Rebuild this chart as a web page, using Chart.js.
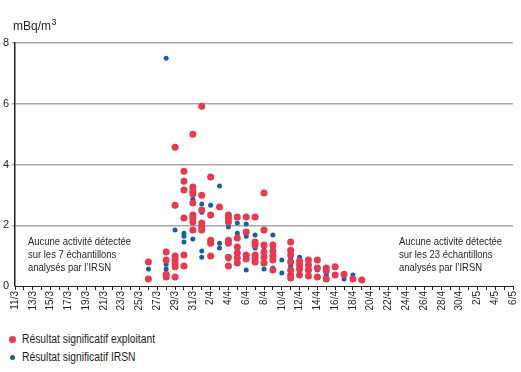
<!DOCTYPE html>
<html>
<head>
<meta charset="utf-8">
<script src="https://cdn.jsdelivr.net/npm/chart.js@4.4.1/dist/chart.umd.min.js"></script>
<style>
    body { margin: 0; background: #fff; }
    #wrap { position: relative; width: 521px; height: 372px; font-family: "Liberation Sans", sans-serif; color: #231f20; }
    #myChart { position: absolute; left: 0; top: 0; }
    .legendItem { position: absolute; left: 0; height: 14px; line-height: 14px; font-size: 12px; white-space: nowrap; }
    .legendItem span.dot { position: absolute; border-radius: 50%; }
    .legendItem span.txt { position: absolute; left: 22px; top: 0; transform: scaleX(0.86); transform-origin: 0 50%; }
</style>
</head>
<body>
<div id="wrap">
    <canvas id="myChart" width="521" height="325"></canvas>
    <div class="legendItem" style="top:332px"><span class="dot" style="left:9px;top:3.5px;width:7px;height:7px;background:#e63a4e"></span><span class="txt">Résultat significatif exploitant</span></div>
    <div class="legendItem" style="top:350px"><span class="dot" style="left:10px;top:5px;width:5px;height:5px;background:#1a5ea8"></span><span class="txt">Résultat significatif IRSN</span></div>
</div>
<script>
// every day shown on the x axis (labels on every second day)
var days = ['11/3', '12/3', '13/3', '14/3', '15/3', '16/3', '17/3', '18/3', '19/3', '20/3',
    '21/3', '22/3', '23/3', '24/3', '25/3', '26/3', '27/3', '28/3', '29/3', '30/3', '31/3',
    '1/4', '2/4', '3/4', '4/4', '5/4', '6/4', '7/4', '8/4', '9/4', '10/4',
    '11/4', '12/4', '13/4', '14/4', '15/4', '16/4', '17/4', '18/4', '19/4', '20/4',
    '21/4', '22/4', '23/4', '24/4', '25/4', '26/4', '27/4', '28/4', '29/4', '30/4',
    '1/5', '2/5', '3/5', '4/5', '5/5', '6/5'];

var yTicks = [0, 2, 4, 6, 8];

// sampling days that have at least one result
var sampleDates = ['26/3', '28/3', '29/3', '30/3', '31/3', '1/4', '2/4', '3/4', '4/4', '5/4',
    '6/4', '7/4', '8/4', '9/4', '10/4', '11/4', '12/4', '13/4', '14/4', '15/4',
    '16/4', '17/4', '18/4', '19/4'];

// mBq/m3, one list per sampling day
var exploitantValues = [
    [0.79, 0.23],
    [1.12, 0.86, 0.39, 0.30],
    [4.57, 2.66, 0.99, 0.89, 0.76, 0.63, 0.30],
    [3.78, 3.45, 3.16, 2.24, 1.02, 0.66],
    [5.0, 3.26, 3.13, 3.03, 2.73, 2.34, 2.24, 2.11, 1.84],
    [5.92, 2.99, 2.5, 2.07, 1.94, 1.84],
    [3.59, 2.34, 1.51, 1.41, 0.99],
    [2.6],
    [2.34, 2.24, 2.11, 1.51, 1.41, 0.95, 0.66],
    [2.27, 1.58, 1.28, 1.09, 0.92, 0.76],
    [2.27, 1.78, 1.02, 0.89],
    [2.27, 1.45, 1.35, 1.02, 0.92, 0.79],
    [3.06, 1.84, 1.35, 1.12, 0.95, 0.76],
    [1.35, 1.15, 0.99, 0.86, 0.53],
    [],
    [1.45, 1.18, 1.02, 0.79, 0.53, 0.36, 0.26],
    [0.82, 0.69, 0.56, 0.36],
    [0.86, 0.69, 0.53, 0.33],
    [0.86, 0.59, 0.30],
    [0.59, 0.49, 0.23],
    [0.63, 0.36],
    [0.39],
    [0.23],
    [0.20]
];

var irsnValues = [
    [0.56],
    [7.5, 0.72, 0.56],
    [1.84],
    [1.74, 1.64, 1.45],
    [2.86, 1.55],
    [2.70, 2.43, 1.15, 0.95],
    [2.66],
    [3.29, 1.41, 1.25],
    [1.94, 0.89],
    [2.07, 1.74, 0.82],
    [2.04, 1.64, 0.53],
    [1.68, 1.25],
    [1.28, 0.56],
    [1.68, 1.25, 0.59],
    [0.86, 0.43],
    [0.89, 0.66],
    [0.95],
    [0.63],
    [0.53],
    [0.36, 0.30],
    [],
    [0.33, 0.23],
    [0.36],
    []
];

var noteLeft = ['Aucune activité détectée', 'sur les 7 échantillons', 'analysés par l\u2019IRSN'];
var noteRight = ['Aucune activité détectée', 'sur les 23 échantillons', 'analysés par l\u2019IRSN'];

var FONT = '"Liberation Sans", sans-serif';

// turn the per-day lists into scatter points
var toPoints = function (lists) {
    var pts = [];
    lists.forEach(function (vals, i) {
        var x = days.indexOf(sampleDates[i]);
        vals.forEach(function (v) {
            pts.push({ x: x, y: v });
        });
    });
    return pts;
};

// narrow text: squeeze horizontally like the condensed font of the original
var drawNarrow = function (ctx, text, x, y) {
    ctx.save();
    ctx.translate(x, y);
    ctx.scale(0.86, 1);
    ctx.fillText(text, 0, 0);
    ctx.restore();
};

// unit label and the two "no activity" notes
var notesPlugin = {
    id: 'notes',
    afterDraw: function (chart) {
        var ctx = chart.ctx;
        ctx.save();
        ctx.fillStyle = '#231f20';
        ctx.textBaseline = 'alphabetic';
        ctx.font = '12px ' + FONT;
        ctx.fillText('mBq/m', 13, 30);
        var w = ctx.measureText('mBq/m').width;
        ctx.font = '9px ' + FONT;
        ctx.fillText('3', 13 + w + 0.5, 25);

        ctx.font = '11px ' + FONT;
        ctx.textBaseline = 'middle';
        noteLeft.forEach(function (t, i) {
            drawNarrow(ctx, t, 28, 242 + i * 13);
        });
        noteRight.forEach(function (t, i) {
            drawNarrow(ctx, t, 399, 242 + i * 13);
        });
        ctx.restore();
    }
};

var ctx = document.getElementById('myChart').getContext('2d');

var chart = new Chart(ctx, {
    type: 'scatter',
    data: {
        datasets: [{
            label: 'Résultat significatif exploitant',
            data: toPoints(exploitantValues),
            backgroundColor: '#e63a4e',
            borderWidth: 0,
            pointRadius: 3.5
        }, {
            label: 'Résultat significatif IRSN',
            data: toPoints(irsnValues),
            backgroundColor: '#1a5ea8',
            borderWidth: 0,
            pointRadius: 2.5
        }]
    },
    options: {
        responsive: false,
        animation: false,
        layout: { padding: { top: 43, right: 8, left: 0, bottom: 0 } },
        plugins: {
            legend: { display: false },
            tooltip: { enabled: false }
        },
        scales: {
            x: {
                type: 'linear',
                min: 0,
                max: days.length - 1,
                afterFit: function (scale) {
                    scale.height = 39;
                    scale.paddingLeft = 0;
                    scale.paddingRight = 0;
                },
                grid: { drawOnChartArea: false, drawTicks: true, tickLength: 4, color: '#231f20' },
                border: { display: true, color: '#231f20', width: 1 },
                ticks: {
                    stepSize: 1,
                    autoSkip: false,
                    minRotation: 90,
                    maxRotation: 90,
                    padding: 1,
                    color: '#231f20',
                    font: { family: FONT, size: 10 },
                    callback: function (value) {
                        return value % 2 === 0 ? days[value] : '';
                    }
                }
            },
            y: {
                min: yTicks[0],
                max: yTicks[yTicks.length - 1],
                afterFit: function (scale) { scale.width = 15; },
                afterBuildTicks: function (scale) {
                    scale.ticks = yTicks.map(function (v) { return { value: v }; });
                },
                grid: {
                    color: function (c) { return c.tick && c.tick.value === 0 ? 'rgba(0,0,0,0)' : '#a7a9ac'; },
                    lineWidth: 1.5,
                    tickLength: 3
                },
                border: { display: true, color: '#231f20', width: 1.5 },
                ticks: {
                    padding: 3,
                    color: '#231f20',
                    font: { family: FONT, size: 11 }
                }
            }
        }
    },
    plugins: [notesPlugin]
});
</script>
</body>
</html>
